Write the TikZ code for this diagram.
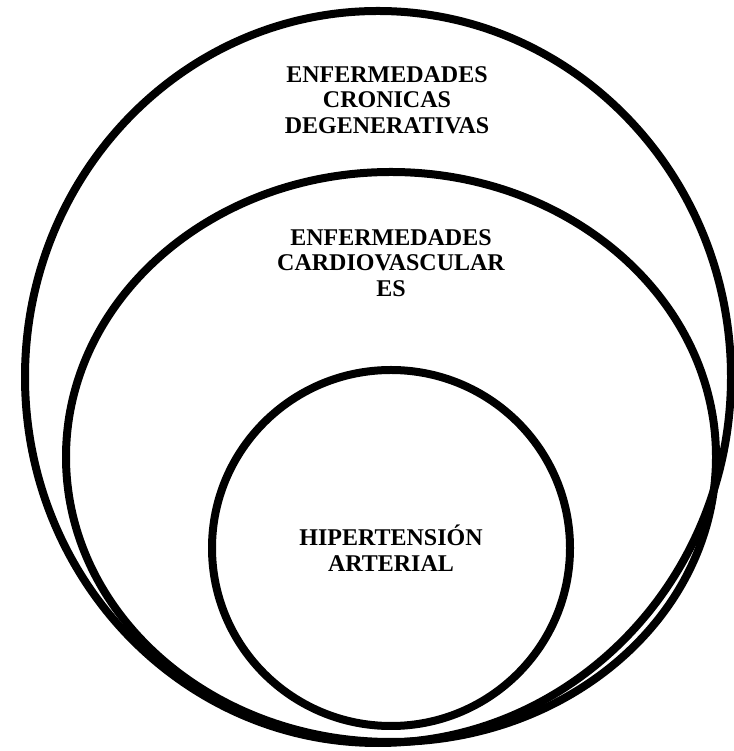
\documentclass[tikz,border=0pt]{standalone}
\usepackage{fontspec}
\setmainfont{Liberation Serif}

\begin{document}
\begin{tikzpicture}[x=1pt, y=1pt,
    ring/.style={draw=black, line width=8pt},
    label/.style={align=center, font=\bfseries\fontsize{24}{25.5}\selectfont, inner sep=0pt}]
\useasboundingbox (0,0) rectangle (733,751);

    % the three nested sets
    \draw [ring] (378,374) ellipse [x radius=353, y radius=366];
    \draw [ring] (391,294) ellipse [x radius=325, y radius=285];
    \draw [ring] (391,203) ellipse [x radius=179, y radius=178];

    \node [label] (cronicas) at (387,651) {ENFERMEDADES\\CRONICAS\\DEGENERATIVAS};
    \node [label] (cardio) at (391,488) {ENFERMEDADES\\CARDIOVASCULAR\\ES};
    \node [label] (hta) at (391,203) {HIPERTENSIÓN\\ARTERIAL};

\end{tikzpicture}
\end{document}
